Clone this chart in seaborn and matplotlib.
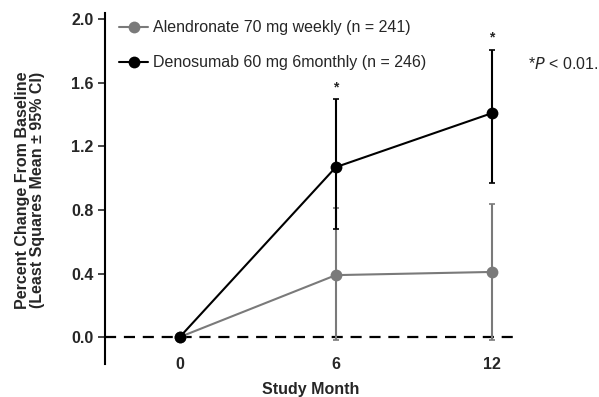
import matplotlib
matplotlib.use("Agg")
import matplotlib.pyplot as plt
import seaborn as sns
import pandas as pd

months = [0, 6, 12]
alendronate_mean = [0.0, 0.39, 0.41]
alendronate_lo = [0.0, -0.02, -0.02]
alendronate_hi = [0.0, 0.81, 0.84]
denosumab_mean = [0.0, 1.07, 1.41]
denosumab_lo = [0.0, 0.68, 0.97]
denosumab_hi = [0.0, 1.50, 1.81]
series_names = ["Alendronate 70 mg weekly (n = 241)",
                "Denosumab 60 mg 6monthly (n = 246)"]
series_colors = ["#7a7a7a", "#000000"]
y_ticks = [0.0, 0.4, 0.8, 1.2, 1.6, 2.0]
x_ticks = [0, 6, 12]
signif_months = [6, 12]

sns.set_style("white")
plt.rcParams["font.family"] = ["Liberation Sans", "DejaVu Sans"]

FS = 11.5

df = pd.DataFrame({
    "month": months * 2,
    "mean": alendronate_mean + denosumab_mean,
    "lo": alendronate_lo + denosumab_lo,
    "hi": alendronate_hi + denosumab_hi,
    "group": [series_names[0]] * 3 + [series_names[1]] * 3,
})

fig = plt.figure(figsize=(5.99, 3.97), dpi=100)
ax = fig.add_axes([0.175, 0.083, 0.688, 0.884])

# zero reference line
ax.axhline(0, color="black", lw=1.6, ls=(0, (5, 3.5)), zorder=1)

palette = dict(zip(series_names, series_colors))
sns.lineplot(data=df, x="month", y="mean", hue="group", palette=palette,
             marker="o", markersize=8.5, markeredgewidth=0, lw=1.5,
             ax=ax, legend=False, zorder=3)

# 95% CI whiskers (skip baseline, which has none)
for name, color in zip(series_names, series_colors):
    sub = df[(df.group == name) & (df.month > 0)]
    ax.errorbar(sub["month"], sub["mean"],
                yerr=[sub["mean"] - sub["lo"], sub["hi"] - sub["mean"]],
                fmt="none", ecolor=color, elinewidth=1.5, capsize=2.5,
                capthick=1.2, zorder=2)

# significance markers
den = df[df.group == series_names[1]].set_index("month")
for m in signif_months:
    ax.text(m, den.loc[m, "hi"] + 0.03, "*", ha="center", va="bottom",
            fontsize=10, fontweight="bold")

ax.set_xlim(-2.88, 12.96)
ax.set_ylim(-0.17, 2.04)
ax.set_yticks(y_ticks)
ax.set_yticklabels([f"{v:.1f}" for v in y_ticks], fontweight="bold", fontsize=FS)
ax.set_xticks(x_ticks)
ax.set_xticklabels([str(v) for v in x_ticks], fontweight="bold", fontsize=FS)
ax.tick_params(axis="y", direction="out", length=5, width=1.2, left=True, pad=3)
ax.tick_params(axis="x", length=0, pad=-5)

for s in ["top", "right", "bottom"]:
    ax.spines[s].set_visible(False)
ax.spines["left"].set_linewidth(1.5)
ax.spines["left"].set_color("black")

ax.set_xlabel("Study Month", fontweight="bold", fontsize=FS, labelpad=7)
ax.set_ylabel("Percent Change From Baseline\n(Least Squares Mean ± 95% CI)",
              fontweight="bold", fontsize=FS, linespacing=1.0)
ax.yaxis.set_label_coords(-0.146, 0.496)

handles = [plt.Line2D([], [], color=c, marker="o", markersize=8.5,
                      markeredgewidth=0, lw=1.5) for c in series_colors]
ax.legend(handles, series_names, loc="upper left", bbox_to_anchor=(0.0, 1.02),
          frameon=False, fontsize=FS, handlelength=1.8, handletextpad=0.3,
          labelspacing=1.25)

fig.text(0.881, 0.84, r"*$\it{P}$ < 0.01.", fontsize=FS, va="center")

fig.savefig("out.png", dpi=100)
